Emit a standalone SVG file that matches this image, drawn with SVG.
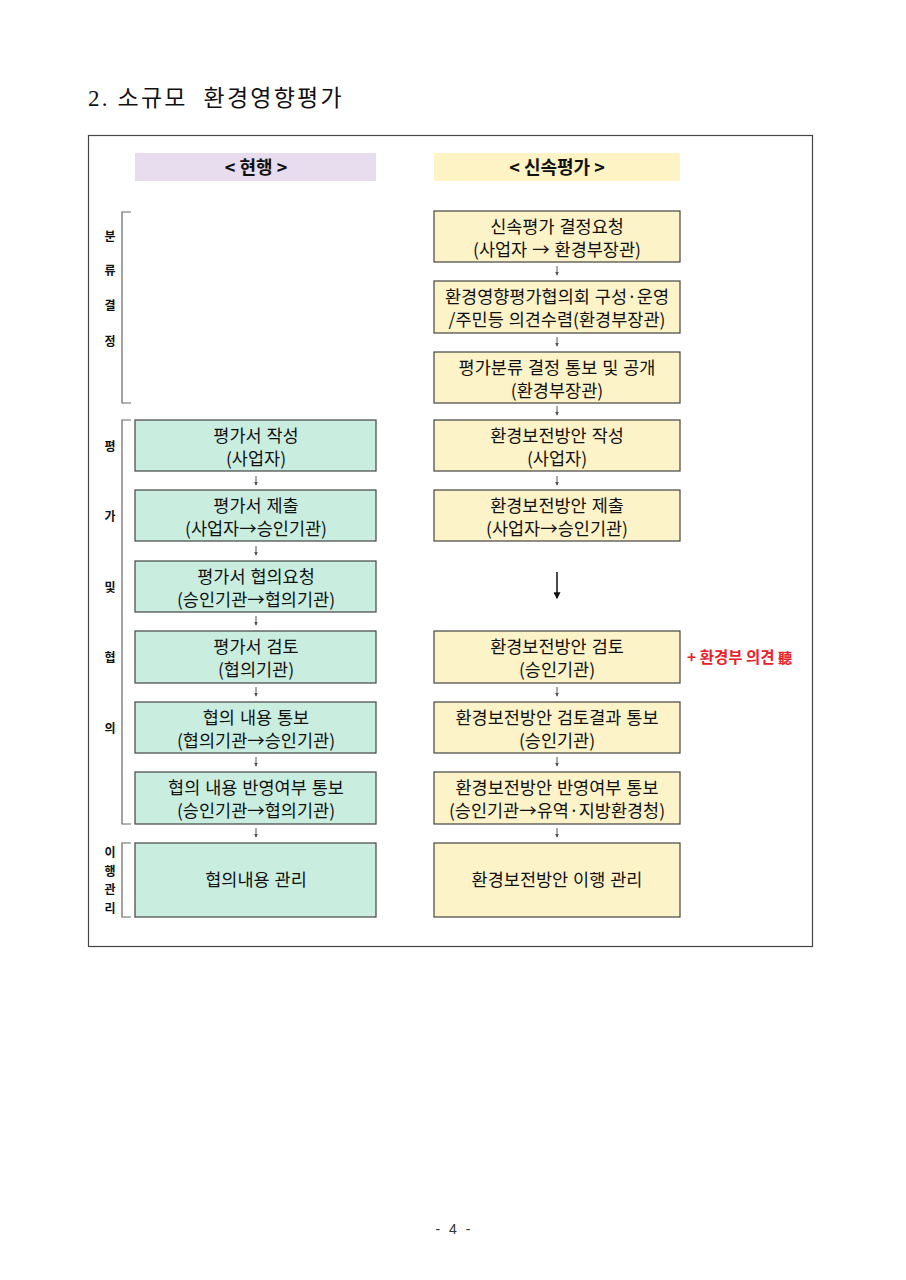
<svg xmlns="http://www.w3.org/2000/svg" width="906" height="1280" viewBox="0 0 906 1280">
<defs>
<style>
text{font-family:"Noto Sans CJK KR","Noto Sans",sans-serif;fill:#111}
.t{font-size:17.5px;text-anchor:middle;word-spacing:1px}
.h{font-size:18px;font-weight:bold;text-anchor:middle}
.lab{font-size:12px;font-weight:bold;text-anchor:middle}
.cur{fill:#c9eee0;stroke:#444;stroke-width:1.2}
.new{fill:#fdf3c8;stroke:#444;stroke-width:1.2}
.br{fill:none;stroke:#666;stroke-width:1.2}
.ar{stroke:#555;stroke-width:1;fill:none;marker-end:url(#ah)}
.big{stroke:#111;stroke-width:1.5;fill:none;marker-end:url(#ahb)}
</style>
<marker id="ah" viewBox="0 0 6 6" refX="5" refY="3" markerWidth="4" markerHeight="4" orient="auto" markerUnits="userSpaceOnUse"><path d="M0,0 L6,3 L0,6 z" fill="#555"/></marker>
<marker id="ahb" viewBox="0 0 6 6" refX="5" refY="3" markerWidth="7" markerHeight="7" orient="auto" markerUnits="userSpaceOnUse"><path d="M0,0 L6,3 L0,6 z" fill="#111"/></marker>
</defs>
<rect width="906" height="1280" fill="#fff"/>
<text x="88" y="106" xml:space="preserve" style="font-family:'Liberation Serif','Noto Sans CJK KR',serif;font-size:23px;letter-spacing:2.2px">2. 소규모  환경영향평가</text>
<rect x="88.5" y="135.5" width="724" height="811" fill="none" stroke="#444" stroke-width="1.2"/>

<g id="header-current"><rect x="135" y="153" width="241" height="28" fill="#e8dcef"/><text class="h" x="256" y="174">&lt; 현행 &gt;</text></g>
<g id="header-new"><rect x="434" y="153" width="246" height="28" fill="#fdf3c4"/><text class="h" x="557" y="174">&lt; 신속평가 &gt;</text></g>

<g id="bracket-classify"><path class="br" d="M131,212 H122 V403 H131"/><text class="lab" x="110" y="241">분</text><text class="lab" x="110" y="275">류</text><text class="lab" x="110" y="310">결</text><text class="lab" x="110" y="346">정</text></g>
<g id="bracket-eval"><path class="br" d="M131,420 H122 V824 H131"/><text class="lab" x="110" y="451">평</text><text class="lab" x="110" y="521">가</text><text class="lab" x="110" y="592">및</text><text class="lab" x="110" y="662">협</text><text class="lab" x="110" y="733">의</text></g>
<g id="bracket-impl"><path class="br" d="M131,843 H122 V917 H131"/><text class="lab" x="110" y="857">이</text><text class="lab" x="110" y="876">행</text><text class="lab" x="110" y="894">관</text><text class="lab" x="110" y="913">리</text></g>

<g id="R1"><rect class="new" x="434" y="211" width="246" height="51"/><text class="t" x="557" y="233">신속평가 결정요청</text><text class="t" x="557" y="256">(사업자 → 환경부장관)</text></g>
<g id="R2"><rect class="new" x="434" y="281" width="246" height="52"/><text class="t" x="557" y="303">환경영향평가협의회 구성·운영</text><text class="t" x="557" y="326">/주민등 의견수렴(환경부장관)</text></g>
<g id="R3"><rect class="new" x="434" y="352" width="246" height="51"/><text class="t" x="557" y="374">평가분류 결정 통보 및 공개</text><text class="t" x="557" y="397">(환경부장관)</text></g>
<g id="R4"><rect class="new" x="434" y="420" width="246" height="51"/><text class="t" x="557" y="442">환경보전방안 작성</text><text class="t" x="557" y="465">(사업자)</text></g>
<g id="R5"><rect class="new" x="434" y="490" width="246" height="51"/><text class="t" x="557" y="512">환경보전방안 제출</text><text class="t" x="557" y="535">(사업자→승인기관)</text></g>
<g id="R6"><rect class="new" x="434" y="631" width="246" height="52"/><text class="t" x="557" y="653">환경보전방안 검토</text><text class="t" x="557" y="676">(승인기관)</text></g>
<g id="R7"><rect class="new" x="434" y="702" width="246" height="51"/><text class="t" x="557" y="724">환경보전방안 검토결과 통보</text><text class="t" x="557" y="747">(승인기관)</text></g>
<g id="R8"><rect class="new" x="434" y="772" width="246" height="52"/><text class="t" x="557" y="794">환경보전방안 반영여부 통보</text><text class="t" x="557" y="817">(승인기관→유역·지방환경청)</text></g>
<g id="R9"><rect class="new" x="434" y="843" width="246" height="74"/><text class="t" x="557" y="886">환경보전방안 이행 관리</text></g>

<g id="L1"><rect class="cur" x="135" y="420" width="241" height="51"/><text class="t" x="256" y="442">평가서 작성</text><text class="t" x="256" y="465">(사업자)</text></g>
<g id="L2"><rect class="cur" x="135" y="490" width="241" height="51"/><text class="t" x="256" y="512">평가서 제출</text><text class="t" x="256" y="535">(사업자→승인기관)</text></g>
<g id="L3"><rect class="cur" x="135" y="561" width="241" height="51"/><text class="t" x="256" y="583">평가서 협의요청</text><text class="t" x="256" y="606">(승인기관→협의기관)</text></g>
<g id="L4"><rect class="cur" x="135" y="631" width="241" height="52"/><text class="t" x="256" y="653">평가서 검토</text><text class="t" x="256" y="676">(협의기관)</text></g>
<g id="L5"><rect class="cur" x="135" y="702" width="241" height="51"/><text class="t" x="256" y="724">협의 내용 통보</text><text class="t" x="256" y="747">(협의기관→승인기관)</text></g>
<g id="L6"><rect class="cur" x="135" y="772" width="241" height="52"/><text class="t" x="256" y="794">협의 내용 반영여부 통보</text><text class="t" x="256" y="817">(승인기관→협의기관)</text></g>
<g id="L7"><rect class="cur" x="135" y="843" width="241" height="74"/><text class="t" x="256" y="886">협의내용 관리</text></g>

<g id="note"><text x="687" y="663" style="font-size:15.5px;font-weight:bold;fill:#e8202a">+ 환경부 의견 <tspan style="font-size:14px">聽</tspan></text></g>

<g id="connectors">
<path class="ar" d="M557,266 V275"/>
<path class="ar" d="M557,337 V346"/>
<path class="ar" d="M557,406 V415"/>
<path class="ar" d="M557,476 V485"/>
<path class="big" d="M557,572 V598"/>
<path class="ar" d="M557,687 V696"/>
<path class="ar" d="M557,757 V766"/>
<path class="ar" d="M557,828 V837"/>
<path class="ar" d="M256,476 V485"/>
<path class="ar" d="M256,546 V555"/>
<path class="ar" d="M256,616 V625"/>
<path class="ar" d="M256,687 V696"/>
<path class="ar" d="M256,757 V766"/>
<path class="ar" d="M256,828 V837"/>
</g>

<text x="453" y="1234" style="font-family:'Liberation Sans',sans-serif;font-size:14px;text-anchor:middle;fill:#333;word-spacing:5px">- 4 -</text>
</svg>
